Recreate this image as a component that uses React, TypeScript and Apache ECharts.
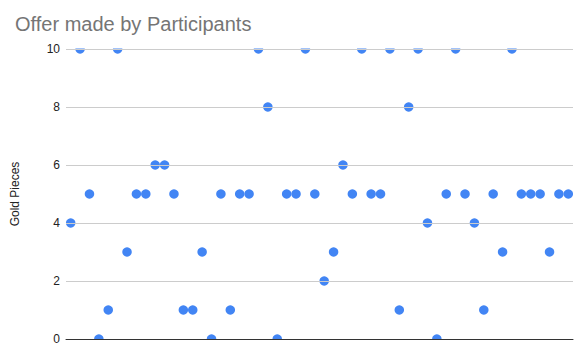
import React, { useEffect, useRef } from "react";
import * as echarts from "echarts";

const participants: string[] = Array.from({ length: 54 }, (_, i) => `P${i + 1}`);
const offers: number[] = [
  4, 10, 5, 0, 1, 10, 3, 5, 5, 6, 6, 5, 1, 1, 3, 0, 5, 1, 5, 5,
  10, 8, 0, 5, 5, 10, 5, 2, 3, 6, 5, 10, 5, 5, 10, 1, 8, 10, 4, 0,
  5, 10, 5, 4, 1, 5, 3, 10, 5, 5, 5, 3, 5, 5,
];
const yTicks: number[] = [0, 2, 4, 6, 8, 10];

const W = 587;
const H = 355;
const GRID = { left: 66, right: 14, top: 49, bottom: 16 };

export default function App() {
  const ref = useRef<HTMLDivElement>(null);
  useEffect(() => {
    if (!ref.current) return;
    const chart = echarts.init(ref.current, undefined, { renderer: "svg" });
    chart.setOption({
      animation: false,
      title: {
        text: "Offer made by Participants",
        left: 10,
        top: 9,
        z: 10,
        textStyle: {
          fontFamily: "Liberation Sans, Arial, sans-serif",
          fontSize: 20,
          fontWeight: "normal",
          color: "#757575",
        },
      },
      grid: { ...GRID, containLabel: false },
      graphic: [
        {
          type: "rect",
          z: 4,
          silent: true,
          shape: { x: GRID.left - 1, y: 0, width: W - GRID.left + 1, height: GRID.top - 0.5 },
          style: { fill: "#ffffff" },
        },
        {
          type: "rect",
          z: 4,
          silent: true,
          shape: { x: GRID.left - 1, y: H - GRID.bottom + 1, width: W - GRID.left + 1, height: GRID.bottom },
          style: { fill: "#ffffff" },
        },
      ],
      xAxis: {
        type: "category",
        data: participants,
        boundaryGap: true,
        z: 5,
        axisLine: { show: true, lineStyle: { color: "#333", width: 1 } },
        axisTick: { show: false },
        axisLabel: { show: false },
        splitLine: { show: false },
      },
      yAxis: {
        type: "value",
        min: yTicks[0],
        max: yTicks[yTicks.length - 1],
        interval: 2,
        name: "Gold Pieces",
        nameLocation: "middle",
        nameGap: 45,
        nameRotate: 90,
        z: 5,
        nameTextStyle: {
          fontFamily: "Liberation Sans, Arial, sans-serif",
          fontSize: 12,
          color: "#222",
        },
        axisLine: { show: false },
        axisTick: { show: false },
        axisLabel: {
          fontFamily: "Liberation Sans, Arial, sans-serif",
          fontSize: 12,
          color: "#222",
          margin: 6,
        },
        splitLine: { show: true, lineStyle: { color: "#cccccc", width: 1 } },
      },
      series: [
        {
          type: "scatter",
          data: offers,
          symbol: "circle",
          symbolSize: 9.5,
          z: 2,
          itemStyle: { color: "#4285F4", opacity: 1 },
        },
      ],
    });
    return () => chart.dispose();
  }, []);
  return <div ref={ref} style={{ width: W, height: H, position: "absolute", left: 0, top: 0 }} />;
}
